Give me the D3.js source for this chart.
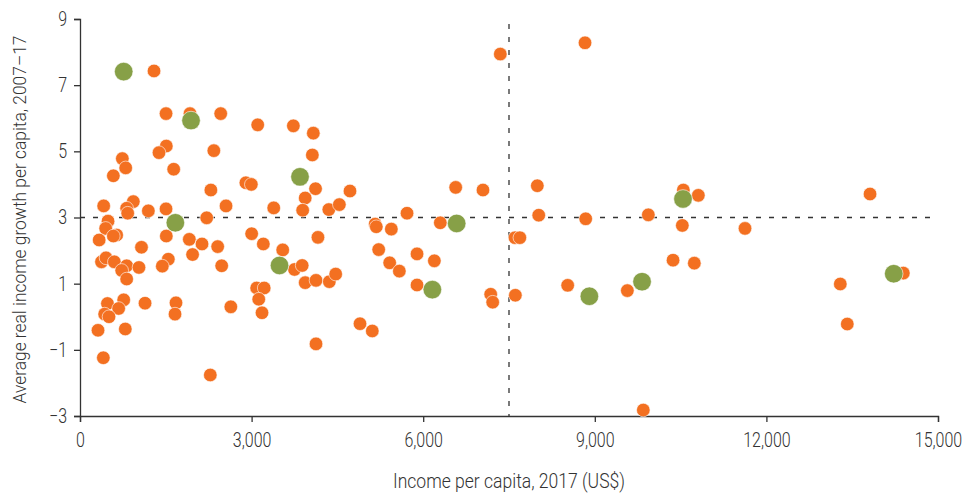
<!DOCTYPE html>
<html>
<head>
<meta charset="utf-8">
<script src="https://cdn.jsdelivr.net/npm/d3@7"></script>
<style>
  html, body { margin: 0; padding: 0; background: #fff; }
  svg text { font-family: "Roboto", "Liberation Sans", sans-serif; font-weight: 300; fill: #333; }
</style>
</head>
<body>
<svg id="chart" width="972" height="498"></svg>
<script>
// Orange: other countries [income per capita 2017 US$, avg real income growth %]
const otherIncome = [1294,1504,1923,2460,3107,3730,4079,4062,1509,1381,2340,740,799,583,1638,2288,2900,2995,4118,3937,414,932,816,834,1195,1504,2553,3387,3893,4350,4534,4720,490,449,641,583,335,2215,1509,1911,2133,1075,2407,1968,376,455,600,816,729,816,1031,1544,1439,2477,3001,3205,3544,3750,3884,3937,4126,4160,3089,3220,3125,3182,480,764,676,431,507,1137,1678,1661,2637,315,792,408,2278,4126,
  7348,5717,6568,7045,4359,4470,5160,5180,5443,6299,7605,7690,5222,5892,6195,5414,5583,5892,7180,7215,7611,4895,5110,
  8829,7995,8020,8841,9936,10548,10810,10530,10368,10740,8526,9569,9848,13812,11626,14394,13292,13414];
const otherGrowth = [7.43,6.14,6.14,6.14,5.80,5.77,5.55,4.89,5.16,4.96,5.02,4.78,4.50,4.26,4.46,3.83,4.05,4.00,3.87,3.59,3.35,3.48,3.28,3.13,3.20,3.26,3.35,3.29,3.22,3.24,3.39,3.80,2.89,2.67,2.47,2.44,2.32,2.99,2.44,2.34,2.20,2.10,2.12,1.88,1.66,1.78,1.66,1.54,1.40,1.14,1.49,1.74,1.53,1.54,2.51,2.20,2.02,1.43,1.55,1.03,1.10,2.40,0.87,0.87,0.53,0.12,0.40,0.51,0.25,0.08,0.00,0.41,0.42,0.08,0.30,-0.41,-0.37,-1.24,-1.76,-0.82,
  7.94,3.13,3.91,3.83,1.06,1.29,2.80,2.72,2.65,2.84,2.39,2.39,2.03,1.90,1.69,1.63,1.38,0.96,0.68,0.44,0.65,-0.21,-0.43,
  8.28,3.96,3.07,2.96,3.08,3.83,3.67,2.76,1.71,1.62,0.95,0.79,-2.82,3.71,2.67,1.32,0.99,-0.22];
// Green: highlighted countries
const highlightIncome = [764,1941,3846,1667,3488,6585,6160,8905,9826,10542,14226];
const highlightGrowth = [7.41,5.93,4.23,2.84,1.55,2.82,0.82,0.62,1.06,3.56,1.30];

const xTicks = [0,3000,6000,9000,12000,15000];
const yTicks = [-3,-1,1,3,5,7,9];
const refIncome = 7500;
const refGrowth = 3;
const xTitle = "Income per capita, 2017 (US$)";
const yTitle = "Average real income growth per capita, 2007\u201317";

const svg = d3.select("#chart");
const m = {left: 80, right: 34, top: 19, bottom: 82};
const W = 972, H = 498;
const x = d3.scaleLinear().domain([0,15000]).range([m.left, W - m.right]);
const y = d3.scaleLinear().domain([-3,9]).range([H - m.bottom, m.top]);

const fmt = d3.format(",");
const minusFmt = d => d < 0 ? "\u2212" + Math.abs(d) : String(d);
const SQUEEZE = 0.8;

function condense(sel, factor) {
  sel.each(function() {
    const len = this.getComputedTextLength();
    d3.select(this).attr("textLength", len * factor).attr("lengthAdjust", "spacingAndGlyphs");
  });
}

// reference lines
svg.append("line")
  .attr("x1", x(0)).attr("x2", x(15000))
  .attr("y1", y(refGrowth)).attr("y2", y(refGrowth))
  .attr("stroke", "#333").attr("stroke-width", 1.3).attr("stroke-dasharray", "5,8");
svg.append("line")
  .attr("x1", x(refIncome)).attr("x2", x(refIncome))
  .attr("y1", y(8.85)).attr("y2", y(-3))
  .attr("stroke", "#333").attr("stroke-width", 1.3).attr("stroke-dasharray", "5,8");

// axes
const xAxis = svg.append("g").attr("transform", `translate(0,${y(-3)})`)
  .call(d3.axisBottom(x).tickValues(xTicks).tickFormat(fmt).tickSize(6).tickPadding(11));
const yAxis = svg.append("g").attr("transform", `translate(${x(0)},0)`)
  .call(d3.axisLeft(y).tickValues(yTicks).tickFormat(minusFmt).tickSize(6).tickPadding(7));
[xAxis, yAxis].forEach(a => {
  a.select(".domain").attr("stroke", "#333").attr("stroke-width", 1.3);
  a.selectAll(".tick line").attr("stroke", "#333").attr("stroke-width", 1.3);
  a.selectAll(".tick text").attr("font-size", 20)
    .style("font-family", "Roboto, 'Liberation Sans', sans-serif").style("font-weight", 300).attr("fill", "#333");
});
condense(xAxis.selectAll(".tick text"), SQUEEZE);
condense(yAxis.selectAll(".tick text"), SQUEEZE);

// points
const others = otherIncome.map((v, i) => ({x: v, y: otherGrowth[i]}));
const highs = highlightIncome.map((v, i) => ({x: v, y: highlightGrowth[i]}));
svg.append("g").selectAll("circle").data(others).join("circle")
  .attr("cx", d => x(d.x)).attr("cy", d => y(d.y)).attr("r", 6.8)
  .attr("fill", "#f37021").attr("stroke", "#fff").attr("stroke-width", 0.6);
svg.append("g").selectAll("circle").data(highs).join("circle")
  .attr("cx", d => x(d.x)).attr("cy", d => y(d.y)).attr("r", 9.3)
  .attr("fill", "#87a047").attr("stroke", "#fff").attr("stroke-width", 0.6);

// titles
svg.append("text").attr("x", (x(0) + x(15000)) / 2).attr("y", 488)
  .attr("text-anchor", "middle").attr("font-size", 20)
  .attr("textLength", 232).attr("lengthAdjust", "spacingAndGlyphs").text(xTitle);
svg.append("text")
  .attr("transform", `translate(26,${(y(-3) + y(9)) / 2 + 2}) rotate(-90)`)
  .attr("text-anchor", "middle").attr("font-size", 19)
  .attr("textLength", 368).attr("lengthAdjust", "spacingAndGlyphs").text(yTitle);
</script>
</body>
</html>
